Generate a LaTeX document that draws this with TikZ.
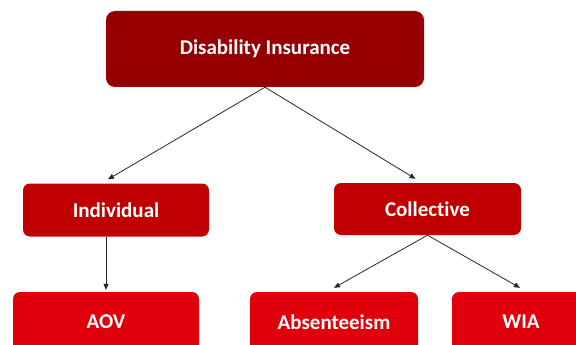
\documentclass[tikz,border=0pt]{standalone}
\usepackage{fontspec}
\setmainfont[Ligatures=NoCommon]{Carlito}
\usetikzlibrary{arrows.meta}
\definecolor{rootred}{HTML}{960000}
\definecolor{midred}{HTML}{C00000}
\definecolor{leafred}{HTML}{E0000B}
\tikzset{
  box/.style={rectangle, rounded corners=7pt, draw=none, text=white,
    font=\bfseries\fontsize{21}{25}\selectfont, inner sep=0pt},
  rootbox/.style={box, fill=rootred, minimum width=318pt, minimum height=76pt, rounded corners=9pt},
  midbox/.style={box, fill=midred, minimum width=186pt, minimum height=53pt},
  leafbox/.style={box, fill=leafred, minimum height=60pt},
  link/.style={draw=black!85, line width=0.8pt, -{Triangle[length=6pt,width=5pt]}}
}
\begin{document}
\begin{tikzpicture}[x=1pt,y=-1pt]
  \useasboundingbox (0,0) rectangle (576,345);
  \clip (0,0) rectangle (576,345);
  % hierarchy boxes
  \node[rootbox] (root) at (265,49) {Disability Insurance};
  \node[midbox] (ind) at (116,210) {Individual};
  \node[midbox, minimum width=187pt, minimum height=52pt] (col) at (427.5,209) {Collective};
  \node[leafbox, minimum width=186pt] (aov) at (106,322) {AOV};
  \node[leafbox, minimum width=168pt] (abs) at (334,322) {Absenteeism};
  \node[leafbox, minimum width=138pt] (wia) at (521,322) {WIA};
  % connectors
  \draw[link] (root.south) -- ([xshift=-8pt,yshift=4pt]ind.north);
  \draw[link] (root.south) -- ([xshift=-12pt,yshift=4pt]col.north);
  \draw[link] (ind.south -| aov.north) -- ([yshift=2pt]aov.north);
  \draw[link] (col.south) -- ([yshift=4pt]abs.north);
  \draw[link] (col.south) -- ([xshift=-1pt,yshift=4pt]wia.north);
\end{tikzpicture}
\end{document}
